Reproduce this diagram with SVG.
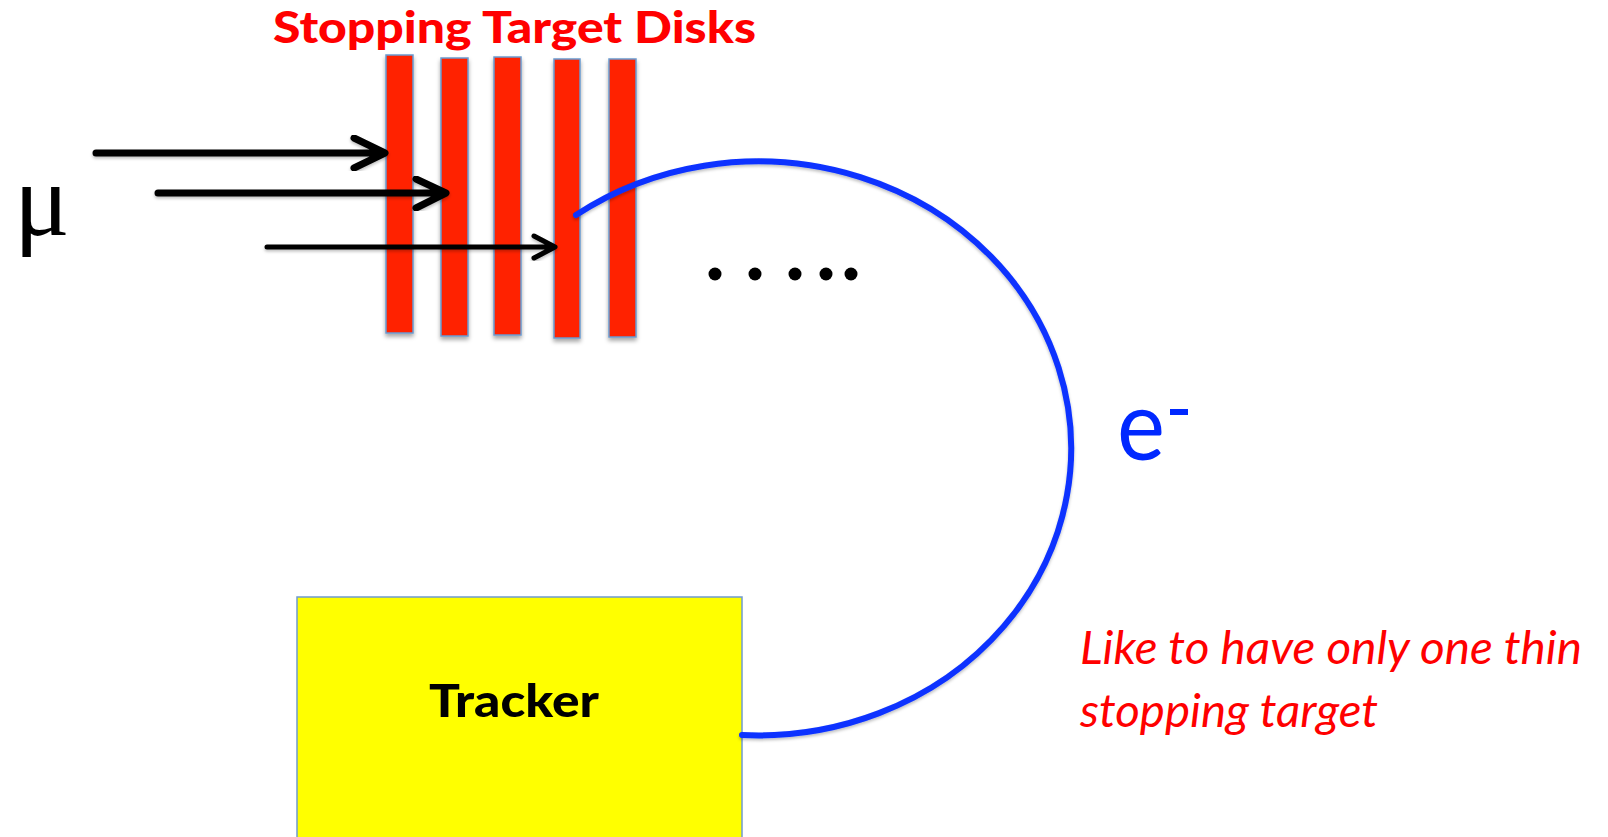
<svg xmlns="http://www.w3.org/2000/svg" width="1608" height="837" viewBox="0 0 1608 837">
  <defs>
    <filter id="shadow" x="-20%" y="-10%" width="140%" height="130%">
      <feDropShadow dx="0" dy="3" stdDeviation="2" flood-color="#000" flood-opacity="0.35"/>
    </filter>
    <filter id="softShadow" x="-10%" y="-10%" width="120%" height="120%">
      <feDropShadow dx="0" dy="2" stdDeviation="1.5" flood-color="#000" flood-opacity="0.25"/>
    </filter>
  </defs>
  <style>
    .disk { fill: #FF2200; stroke: #6A9AD0; stroke-width: 1.5; filter: url(#shadow); }
    .beam { fill: none; stroke: #000; stroke-linecap: round; stroke-linejoin: round; filter: url(#softShadow); }
    .dot { fill: #000; }
    .title { font-family: Lato, "Open Sans", "Liberation Sans", sans-serif; font-weight: 900; font-size: 44px; fill: #FF0000; }
    .label { font-family: Lato, "Open Sans", "Liberation Sans", sans-serif; font-weight: 900; font-size: 46px; fill: #000; }
    .note { font-family: Lato, "Open Sans", "Liberation Sans", sans-serif; font-style: italic; font-size: 47px; fill: #FF0000; }
    .electron { font-family: Lato, "Open Sans", "Liberation Sans", sans-serif; fill: #0028FF; }
  </style>

  <rect width="1608" height="837" fill="#FFFFFF"/>

  <!-- stopping target disks -->
  <g id="disks">
    <text class="title" x="273" y="43" textLength="483" lengthAdjust="spacingAndGlyphs">Stopping Target Disks</text>
    <rect class="disk" x="386" y="55" width="27" height="278"/>
    <rect class="disk" x="441" y="58" width="27" height="278"/>
    <rect class="disk" x="494" y="57" width="27" height="278"/>
    <rect class="disk" x="554" y="59" width="26" height="279"/>
    <rect class="disk" x="609" y="59" width="27" height="278"/>
  </g>

  <!-- muon label -->
  <g id="muon">
    <text x="14" y="235" font-family="'Liberation Serif', 'DejaVu Serif', serif" font-size="104" fill="#000">μ</text>
  </g>

  <!-- continuation dots -->
  <g id="dots">
    <circle class="dot" cx="715" cy="274" r="6.5"/>
    <circle class="dot" cx="755" cy="274" r="6.5"/>
    <circle class="dot" cx="795" cy="274" r="6.5"/>
    <circle class="dot" cx="826" cy="274" r="6.5"/>
    <circle class="dot" cx="851" cy="274" r="6.5"/>
  </g>

  <!-- tracker -->
  <g id="tracker">
    <rect x="297" y="597" width="445" height="250" fill="#FFFF00" stroke="#6F9BD0" stroke-width="1.5"/>
    <text class="label" x="429" y="717" textLength="170" lengthAdjust="spacingAndGlyphs">Tracker</text>
  </g>

  <!-- electron label -->
  <g id="electron">
    <text class="electron" x="1117" y="460" font-size="96" textLength="48" lengthAdjust="spacingAndGlyphs">e</text>
    <rect x="1170" y="409" width="18" height="6" fill="#0028FF"/>
  </g>

  <!-- note -->
  <g id="note">
    <text class="note" x="1080" y="664" textLength="502" lengthAdjust="spacingAndGlyphs">Like to have only one thin</text>
    <text class="note" x="1080" y="727" textLength="298" lengthAdjust="spacingAndGlyphs">stopping target</text>
  </g>

  <!-- connectors: muon beams and electron track -->
  <g id="connectors">
    <path class="beam" stroke-width="7" d="M96 153 H384 M354 138 L385 153 L354 168"/>
    <path class="beam" stroke-width="7" d="M158 193 H445 M416 179 L446 193 L416 208"/>
    <path class="beam" stroke-width="5" d="M267 247 H554 M534 236 L555 247 L534 258"/>
    <path d="M576 215 A313 287 0 1 1 742 735" fill="none" stroke="#0A32FF" stroke-width="6" stroke-linecap="round" filter="url(#softShadow)"/>
  </g>
</svg>
